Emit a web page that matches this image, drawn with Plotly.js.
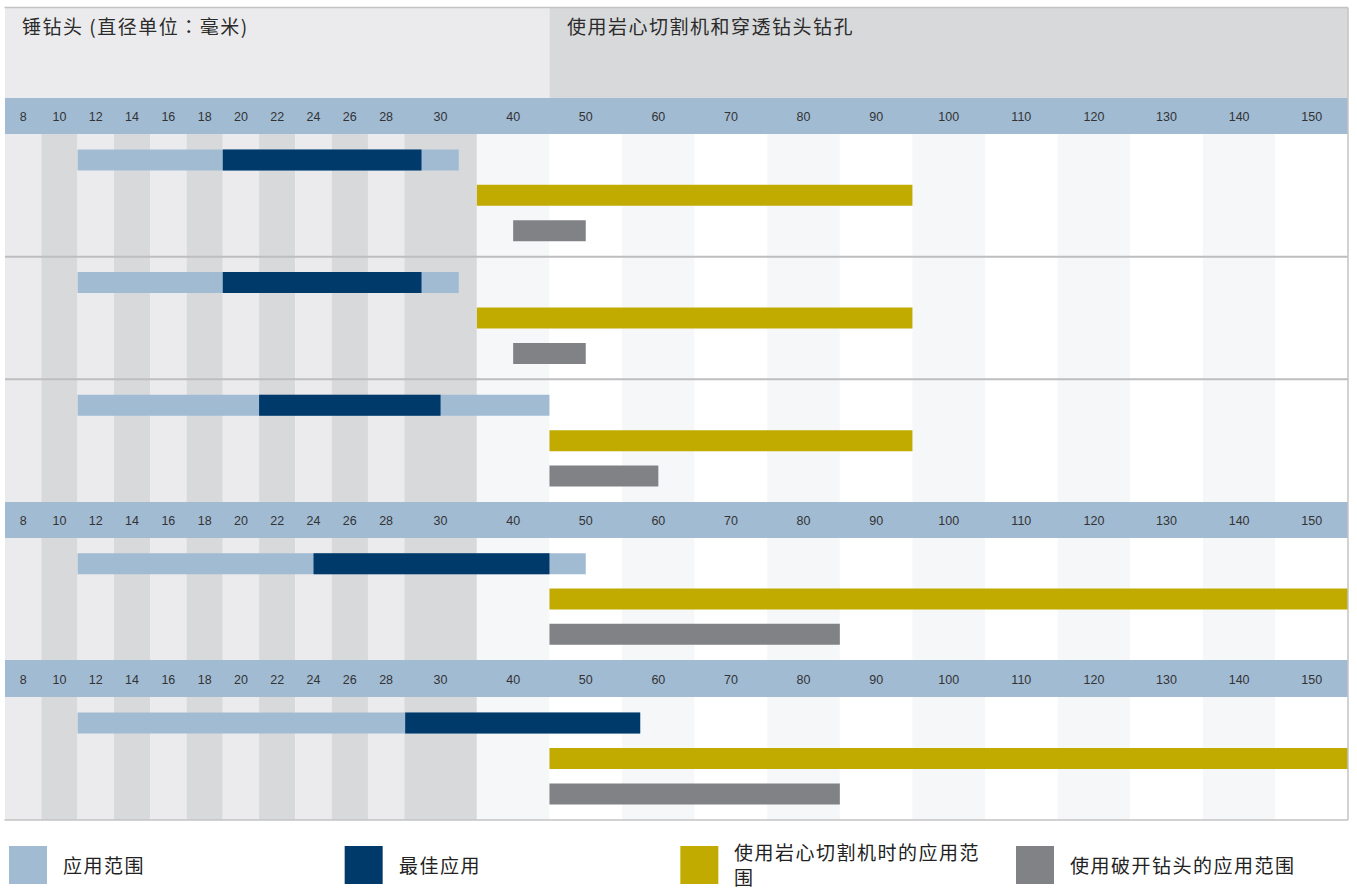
<!DOCTYPE html>
<html><head><meta charset="utf-8">
<script src="https://cdn.plot.ly/plotly-3.0.1.min.js"></script>
<style>html,body{margin:0;padding:0;background:#fff;} #chart{width:1357px;height:889px;}
#chart .annotation-text{letter-spacing:1.5px;}</style>
</head><body><div id="chart"></div>
<script>
// ---- data (diameters in mm) ----
const tickLabels = [8,10,12,14,16,18,20,22,24,26,28,30,40,50,60,70,80,90,100,110,120,130,140,150];
const seriesNames = ['应用范围','最佳应用','使用岩心切割机时的应用范围','使用破开钻头的应用范围'];
const headerLeft = '锤钻头 (直径单位：毫米)';
const headerRight = '使用岩心切割机和穿透钻头钻孔';
// five product rows, top to bottom
const lightStart = [11, 11, 11, 11, 11];
const lightEnd   = [32.5, 32.5, 45, 50, 57.5];
const darkStart  = [19, 19, 21, 24, 28.7];
const darkEnd    = [29.3, 29.3, 30, 45, 57.5];
const coreStart  = [35, 35, 45, 45, 45];
const coreEnd    = [95, 95, 95, 155, 155];
const breakStart = [40, 40, 45, 45, 45];
const breakEnd   = [50, 50, 60, 85, 85];

// ---- layout helpers ----
const W = 1357, H = 889, L = 5, R = 9;
const PW = W - L - R;
const px = x => (x - L) / PW;
const py = y => (H - y) / H;

const widths = tickLabels.map(v => v < 30 ? 1 : 2);
const edges = [0];
widths.forEach(w => edges.push(edges[edges.length - 1] + w));
const centers = widths.map((w, i) => edges[i] + w / 2);
const XMAX = edges[edges.length - 1];
function pos(mm) {
  const n = tickLabels.length;
  const seg = (i) => centers[i] + (mm - tickLabels[i]) * (centers[i + 1] - centers[i]) / (tickLabels[i + 1] - tickLabels[i]);
  if (mm <= tickLabels[0]) return seg(0);
  for (let i = 0; i < n - 1; i++) if (mm <= tickLabels[i + 1]) return seg(i);
  return seg(n - 2);
}

const rowPanel = [0, 0, 0, 1, 2];
const rowGroup = [0, 1, 2, 0, 0];
const panelPx = [[134, 502], [538, 660], [697, 820]];
const panelGroups = [3, 1, 1];
const bandPx = [[98, 134], [502, 538], [660, 697]];
const SLOT = 0.2886, BARW = 0.171;

const colors = ['#a1bbd3', '#003a6b', '#c1ab00', '#818286'];
const series = [
  {name: seriesNames[0], start: lightStart, end: lightEnd, color: colors[0], slot: 0},
  {name: seriesNames[1], start: darkStart, end: darkEnd, color: colors[1], slot: 0},
  {name: seriesNames[2], start: coreStart, end: coreEnd, color: colors[2], slot: 1},
  {name: seriesNames[3], start: breakStart, end: breakEnd, color: colors[3], slot: 2}
];

const traces = [];
series.forEach(s => {
  [0, 1, 2].forEach(p => {
    const rows = rowPanel.map((pp, i) => pp === p ? i : -1).filter(i => i >= 0);
    traces.push({
      type: 'bar', orientation: 'h', name: s.name, showlegend: false,
      base: rows.map(i => pos(s.start[i])),
      x: rows.map(i => pos(s.end[i]) - pos(s.start[i])),
      y: rows.map(i => rowGroup[i] + 0.5 + (s.slot - 1) * SLOT),
      width: BARW,
      marker: {color: s.color, line: {width: 0}},
      xaxis: p === 0 ? 'x' : 'x' + (p + 1),
      yaxis: p === 0 ? 'y' : 'y' + (p + 1),
      hoverinfo: 'skip'
    });
  });
});

const layout = {
  width: W, height: H,
  margin: {l: L, r: R, t: 0, b: 0, pad: 0},
  paper_bgcolor: '#ffffff', plot_bgcolor: 'rgba(0,0,0,0)',
  barmode: 'overlay', showlegend: false,
  font: {family: 'Noto Sans CJK SC, sans-serif', color: '#333'},
  shapes: [], annotations: []
};
[0, 1, 2].forEach(p => {
  const sx = p === 0 ? '' : String(p + 1);
  layout['xaxis' + sx] = {
    domain: [0, 1], range: [0, XMAX], anchor: 'y' + sx, side: 'top',
    tickmode: 'array', tickvals: centers, ticktext: tickLabels.map(String),
    ticks: 'outside', ticklen: 7, tickcolor: 'rgba(0,0,0,0)',
    tickfont: {family: 'Liberation Sans, Arial, sans-serif', size: 12.5, color: '#333'},
    showgrid: false, zeroline: false, showline: false, fixedrange: true
  };
  layout['yaxis' + sx] = {
    domain: [py(panelPx[p][1]), py(panelPx[p][0])],
    range: [panelGroups[p], 0], visible: false, fixedrange: true, anchor: 'x' + sx
  };
});

const S = layout.shapes;
// header backgrounds
S.push({type: 'rect', layer: 'below', xref: 'x', yref: 'paper', x0: 0, x1: edges[13], y0: py(98), y1: py(8), fillcolor: '#ebebed', line: {width: 0}});
S.push({type: 'rect', layer: 'below', xref: 'x', yref: 'paper', x0: edges[13], x1: XMAX, y0: py(98), y1: py(8), fillcolor: '#d8d9db', line: {width: 0}});
// column shading
tickLabels.forEach((v, i) => {
  let c;
  if (v <= 30) c = (i % 2 === 0) ? '#ebebed' : '#d8d9db';
  else c = (i % 2 === 0) ? '#f6f7f9' : '#ffffff';
  S.push({type: 'rect', layer: 'below', xref: 'x', yref: 'paper', x0: edges[i], x1: edges[i + 1], y0: py(820), y1: py(134), fillcolor: c, line: {width: 0}});
});
// tick bands
bandPx.forEach(b => S.push({type: 'rect', layer: 'below', xref: 'paper', yref: 'paper', x0: 0, x1: 1, y0: py(b[1]), y1: py(b[0]), fillcolor: '#a1bbd3', line: {width: 0}}));
// group separators in top panel
[1, 2].forEach(g => S.push({type: 'line', layer: 'below', xref: 'paper', yref: 'y', x0: 0, x1: 1, y0: g, y1: g, line: {color: '#bebec0', width: 2}}));
// frame
const fc = '#c3c3c5';
S.push({type: 'line', xref: 'paper', yref: 'paper', x0: px(4.5), x1: px(1348), y0: py(7.5), y1: py(7.5), line: {color: fc, width: 1.5}});
S.push({type: 'line', xref: 'paper', yref: 'paper', x0: px(1348), x1: px(1348), y0: py(7.5), y1: py(820), line: {color: fc, width: 1.5}});
S.push({type: 'line', xref: 'paper', yref: 'paper', x0: px(4.5), x1: px(1348), y0: py(820), y1: py(820), line: {color: fc, width: 1.5}});

// legend
const A = layout.annotations;
const legendText = [seriesNames[0], seriesNames[1], '使用岩心切割机时的应用范<br>围', seriesNames[3]];
const FONT = 'Noto Sans CJK SC, sans-serif';
legendText.forEach((t, i) => {
  const x0 = 9 + i * 335.67;
  S.push({type: 'rect', xref: 'paper', yref: 'paper', x0: px(x0), x1: px(x0 + 38), y0: py(884), y1: py(846), fillcolor: colors[i], line: {width: 0}});
  A.push({xref: 'paper', yref: 'paper', x: px(x0 + 52), y: py(i === 2 ? 863.5 : 864.5), xanchor: 'left', yanchor: 'middle', align: 'left', showarrow: false, text: t, font: {family: FONT, size: 19, color: '#222'}});
});
// header titles
const leftHtml = headerLeft.replace('：', '<span style="font-family:\'Noto Sans CJK TC\'">：</span>');
A.push({xref: 'paper', yref: 'paper', x: px(20), y: py(25), xanchor: 'left', yanchor: 'middle', align: 'left', showarrow: false, text: leftHtml, font: {family: FONT, size: 19, color: '#2b2b2b'}});
A.push({xref: 'paper', yref: 'paper', x: px(565), y: py(25), xanchor: 'left', yanchor: 'middle', align: 'left', showarrow: false, text: headerRight, font: {family: FONT, size: 19, color: '#2b2b2b'}});

Plotly.newPlot('chart', traces, layout, {displayModeBar: false, staticPlot: true});
</script>
</body></html>
